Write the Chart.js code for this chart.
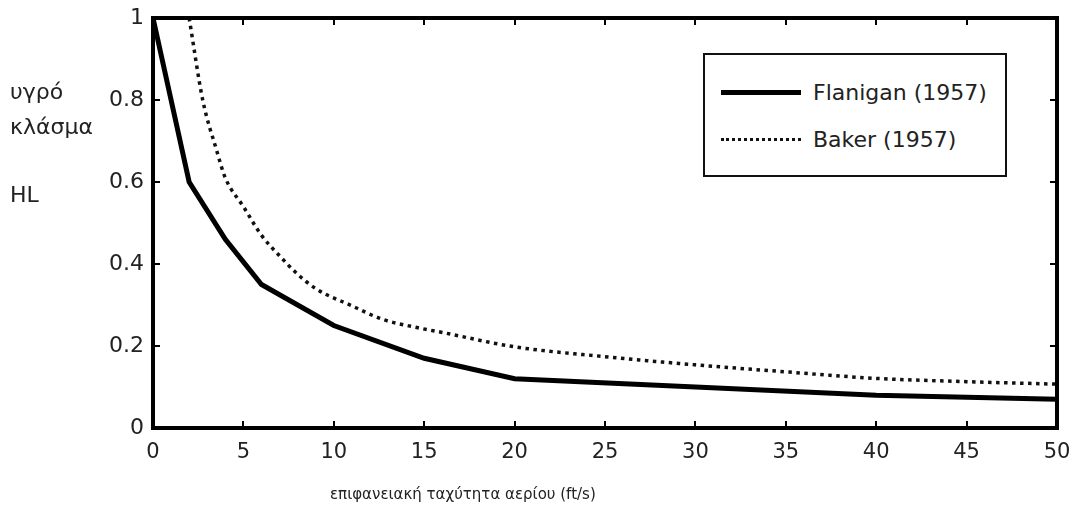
<!DOCTYPE html>
<html lang="el">
<head>
<meta charset="UTF-8">
<title>Flanigan / Baker</title>
<script src="https://cdn.jsdelivr.net/npm/chart.js"></script>
<style>
    body {
        margin: 0;
        background: #fff;
        font-family: "DejaVu Sans", sans-serif;
    }
    .wrap {
        position: relative;
        width: 1077px;
        height: 511px;
    }
    .ylab {
        position: absolute;
        left: 10px;
        font-size: 22px;
        color: #222;
        line-height: 1;
    }
    .xtitle {
        position: absolute;
        left: 330px;
        top: 485px;
        font-size: 15px;
        color: #222;
        white-space: nowrap;
    }
    .legend {
        position: absolute;
        left: 703px;
        top: 53px;
        width: 300px;
        height: 120px;
        border: 2px solid #111;
        background: #fff;
    }
    .legend .item {
        position: absolute;
        left: 16px;
        display: flex;
        align-items: center;
        font-size: 22px;
        color: #222;
        white-space: nowrap;
    }
    .legend .sample {
        width: 80px;
        margin-right: 12px;
    }
</style>
</head>
<body>
<div class="wrap">
    <canvas id="chart" width="1077" height="511"></canvas>
    <div class="ylab" style="top:81px">υγρό</div>
    <div class="ylab" style="top:116px">κλάσμα</div>
    <div class="ylab" style="top:184px">HL</div>
    <div class="xtitle">επιφανειακή ταχύτητα αερίου (ft/s)</div>
    <div class="legend">
        <div class="item" style="top:25px"><span class="sample" style="border-top:5px solid #000"></span><span id="lg0"></span></div>
        <div class="item" style="top:72px"><span class="sample" style="border-top:3px dotted #111"></span><span id="lg1"></span></div>
    </div>
</div>
<script>
    // data
    const seriesNames = ['Flanigan (1957)', 'Baker (1957)'];

    const flaniganX = [0, 2, 4, 6, 10, 15, 20, 30, 40, 50];
    const flaniganY = [1, 0.6, 0.46, 0.35, 0.25, 0.17, 0.12, 0.1, 0.08, 0.07];

    const bakerX = [2, 2.75, 3.5, 4, 5, 6, 7, 8, 9, 11, 12.7, 14.6, 16, 20, 25, 30, 35, 40, 45, 50];
    const bakerY = [1, 0.8, 0.68, 0.61, 0.54, 0.47, 0.42, 0.375, 0.34, 0.298, 0.265, 0.245, 0.233, 0.198, 0.174, 0.154, 0.137, 0.121, 0.113, 0.107];

    const xTicks = [0, 5, 10, 15, 20, 25, 30, 35, 40, 45, 50];
    const yTicks = [0, 0.2, 0.4, 0.6, 0.8, 1];

    document.getElementById('lg0').textContent = seriesNames[0];
    document.getElementById('lg1').textContent = seriesNames[1];

    const pts = (xs, ys) => xs.map((x, i) => ({ x: x, y: ys[i] }));

    // box round the plot with ticks pointing inward on all four sides
    const boxTicks = {
        id: 'boxTicks',
        afterDraw(chart) {
            const { ctx, chartArea: a, scales } = chart;
            const len = 7;
            ctx.save();
            ctx.strokeStyle = '#000';
            ctx.lineWidth = 2;
            ctx.beginPath();
            xTicks.slice(1, -1).forEach(v => {
                const px = Math.round(scales.x.getPixelForValue(v));
                ctx.moveTo(px, a.bottom); ctx.lineTo(px, a.bottom - len);
                ctx.moveTo(px, a.top); ctx.lineTo(px, a.top + len);
            });
            yTicks.slice(1, -1).forEach(v => {
                const py = Math.round(scales.y.getPixelForValue(v));
                ctx.moveTo(a.left, py); ctx.lineTo(a.left + len, py);
                ctx.moveTo(a.right, py); ctx.lineTo(a.right - len, py);
            });
            ctx.stroke();
            ctx.lineWidth = 4;
            ctx.strokeRect(a.left, a.top, a.right - a.left, a.bottom - a.top);
            ctx.restore();
        }
    };

    new Chart(document.getElementById('chart'), {
        type: 'line',
        data: {
            datasets: [
                {
                    label: seriesNames[0],
                    data: pts(flaniganX, flaniganY),
                    borderColor: '#000',
                    borderWidth: 5,
                    pointRadius: 0,
                    tension: 0,
                },
                {
                    label: seriesNames[1],
                    data: pts(bakerX, bakerY),
                    borderColor: '#111',
                    borderWidth: 3.5,
                    borderDash: [3.5, 4.5],
                    borderCapStyle: 'butt',
                    pointRadius: 0,
                    cubicInterpolationMode: 'monotone',
                }
            ]
        },
        options: {
            responsive: false,
            animation: false,
            layout: { padding: { top: 18, right: 20, left: 0, bottom: 0 } },
            plugins: {
                legend: { display: false },
                tooltip: { enabled: false }
            },
            scales: {
                x: {
                    type: 'linear',
                    min: 0,
                    max: 50,
                    afterBuildTicks: s => { s.ticks = xTicks.map(v => ({ value: v })); },
                    afterFit: s => { s.height = 83; s.paddingLeft = 0; s.paddingRight = 0; },
                    grid: { display: false, drawTicks: false },
                    border: { display: false },
                    ticks: {
                        color: '#222',
                        padding: 12,
                        maxRotation: 0,
                        font: { family: 'DejaVu Sans', size: 21 }
                    }
                },
                y: {
                    min: 0,
                    max: 1,
                    afterBuildTicks: s => { s.ticks = yTicks.map(v => ({ value: v })); },
                    afterFit: s => { s.width = 153; s.paddingTop = 0; s.paddingBottom = 0; },
                    grid: { display: false, drawTicks: false },
                    border: { display: false },
                    ticks: {
                        color: '#222',
                        padding: 9,
                        callback: v => String(v),
                        font: { family: 'DejaVu Sans', size: 22 }
                    }
                }
            }
        },
        plugins: [boxTicks]
    });
</script>
</body>
</html>
